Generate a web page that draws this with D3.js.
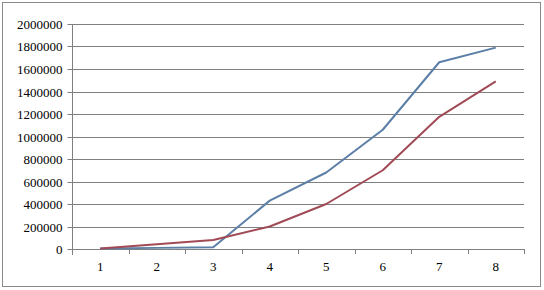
<!DOCTYPE html>
<html>
<head>
<meta charset="utf-8">
<script src="https://cdn.jsdelivr.net/npm/d3@7"></script>
<style>
  body { margin: 0; background: #fff; }
</style>
</head>
<body>
<div id="chart"></div>
<script>
const categories = [1, 2, 3, 4, 5, 6, 7, 8];
const blueSeries = [5000, 10000, 15000, 430000, 680000, 1060000, 1660000, 1790000];
const redSeries = [5000, 42000, 80000, 200000, 400000, 700000, 1175000, 1490000];
const yTicks = [0, 200000, 400000, 600000, 800000, 1000000, 1200000, 1400000, 1600000, 1800000, 2000000];

const W = 544, H = 290;
const margin = {top: 24, right: 20, bottom: 41, left: 72};
const font = '"Liberation Serif", "Times New Roman", serif';

const svg = d3.select("#chart").append("svg")
  .attr("width", W).attr("height", H);

// outer frame
svg.append("rect")
  .attr("x", 2.5).attr("y", 2.5)
  .attr("width", 538).attr("height", 284)
  .attr("fill", "#fff").attr("stroke", "#8a8a8a");

const width = W - margin.left - margin.right;   // 452
const height = H - margin.top - margin.bottom;  // 225
const g = svg.append("g").attr("transform", `translate(${margin.left},${margin.top})`);

const x = d3.scaleBand().domain(categories).range([0, width]);
const y = d3.scaleLinear().domain([0, 2000000]).range([height, 0]);

// gridlines
g.append("g")
  .selectAll("line").data(yTicks.slice(1)).join("line")
  .attr("x1", 0).attr("x2", width)
  .attr("y1", d => Math.round(y(d)) + 0.5).attr("y2", d => Math.round(y(d)) + 0.5)
  .attr("stroke", "#808080");

// y axis
const yAxis = g.append("g")
  .attr("transform", "translate(0.5,0)")
  .call(d3.axisLeft(y).tickValues(yTicks).tickFormat(d3.format("d")).tickSize(5).tickPadding(5));
yAxis.attr("font-family", font).attr("font-size", 13);
yAxis.selectAll(".tick line").attr("stroke", "#808080");
yAxis.selectAll(".tick").attr("transform", d => `translate(0,${Math.round(y(d)) + 0.5})`);
yAxis.select(".domain").attr("stroke", "#808080").attr("d", `M0,${height + 6}V0.5`);
yAxis.selectAll("text").attr("fill", "#000");

// x axis
const xAxis = g.append("g")
  .attr("transform", `translate(0,${height + 0.5})`)
  .call(d3.axisBottom(x).tickSize(0).tickPadding(12));
xAxis.attr("font-family", font).attr("font-size", 13);
xAxis.select(".domain").attr("stroke", "#808080").attr("d", `M0,0H${width}`);
xAxis.selectAll("text").attr("fill", "#000");
g.append("g")
  .selectAll("line").data(categories).join("line")
  .attr("x1", d => Math.round(x(d) + x.bandwidth()) + 0.5)
  .attr("x2", d => Math.round(x(d) + x.bandwidth()) + 0.5)
  .attr("y1", height).attr("y2", height + 5)
  .attr("stroke", "#808080");

// lines
const line = d3.line()
  .x((d, i) => x(categories[i]) + x.bandwidth() / 2)
  .y(d => y(d));

g.append("path").datum(blueSeries)
  .attr("fill", "none").attr("stroke", "#5b7fa6").attr("stroke-width", 2)
  .attr("stroke-linejoin", "round").attr("d", line);

g.append("path").datum(redSeries)
  .attr("fill", "none").attr("stroke", "#a04a55").attr("stroke-width", 2)
  .attr("stroke-linejoin", "round").attr("d", line);
</script>
</body>
</html>
